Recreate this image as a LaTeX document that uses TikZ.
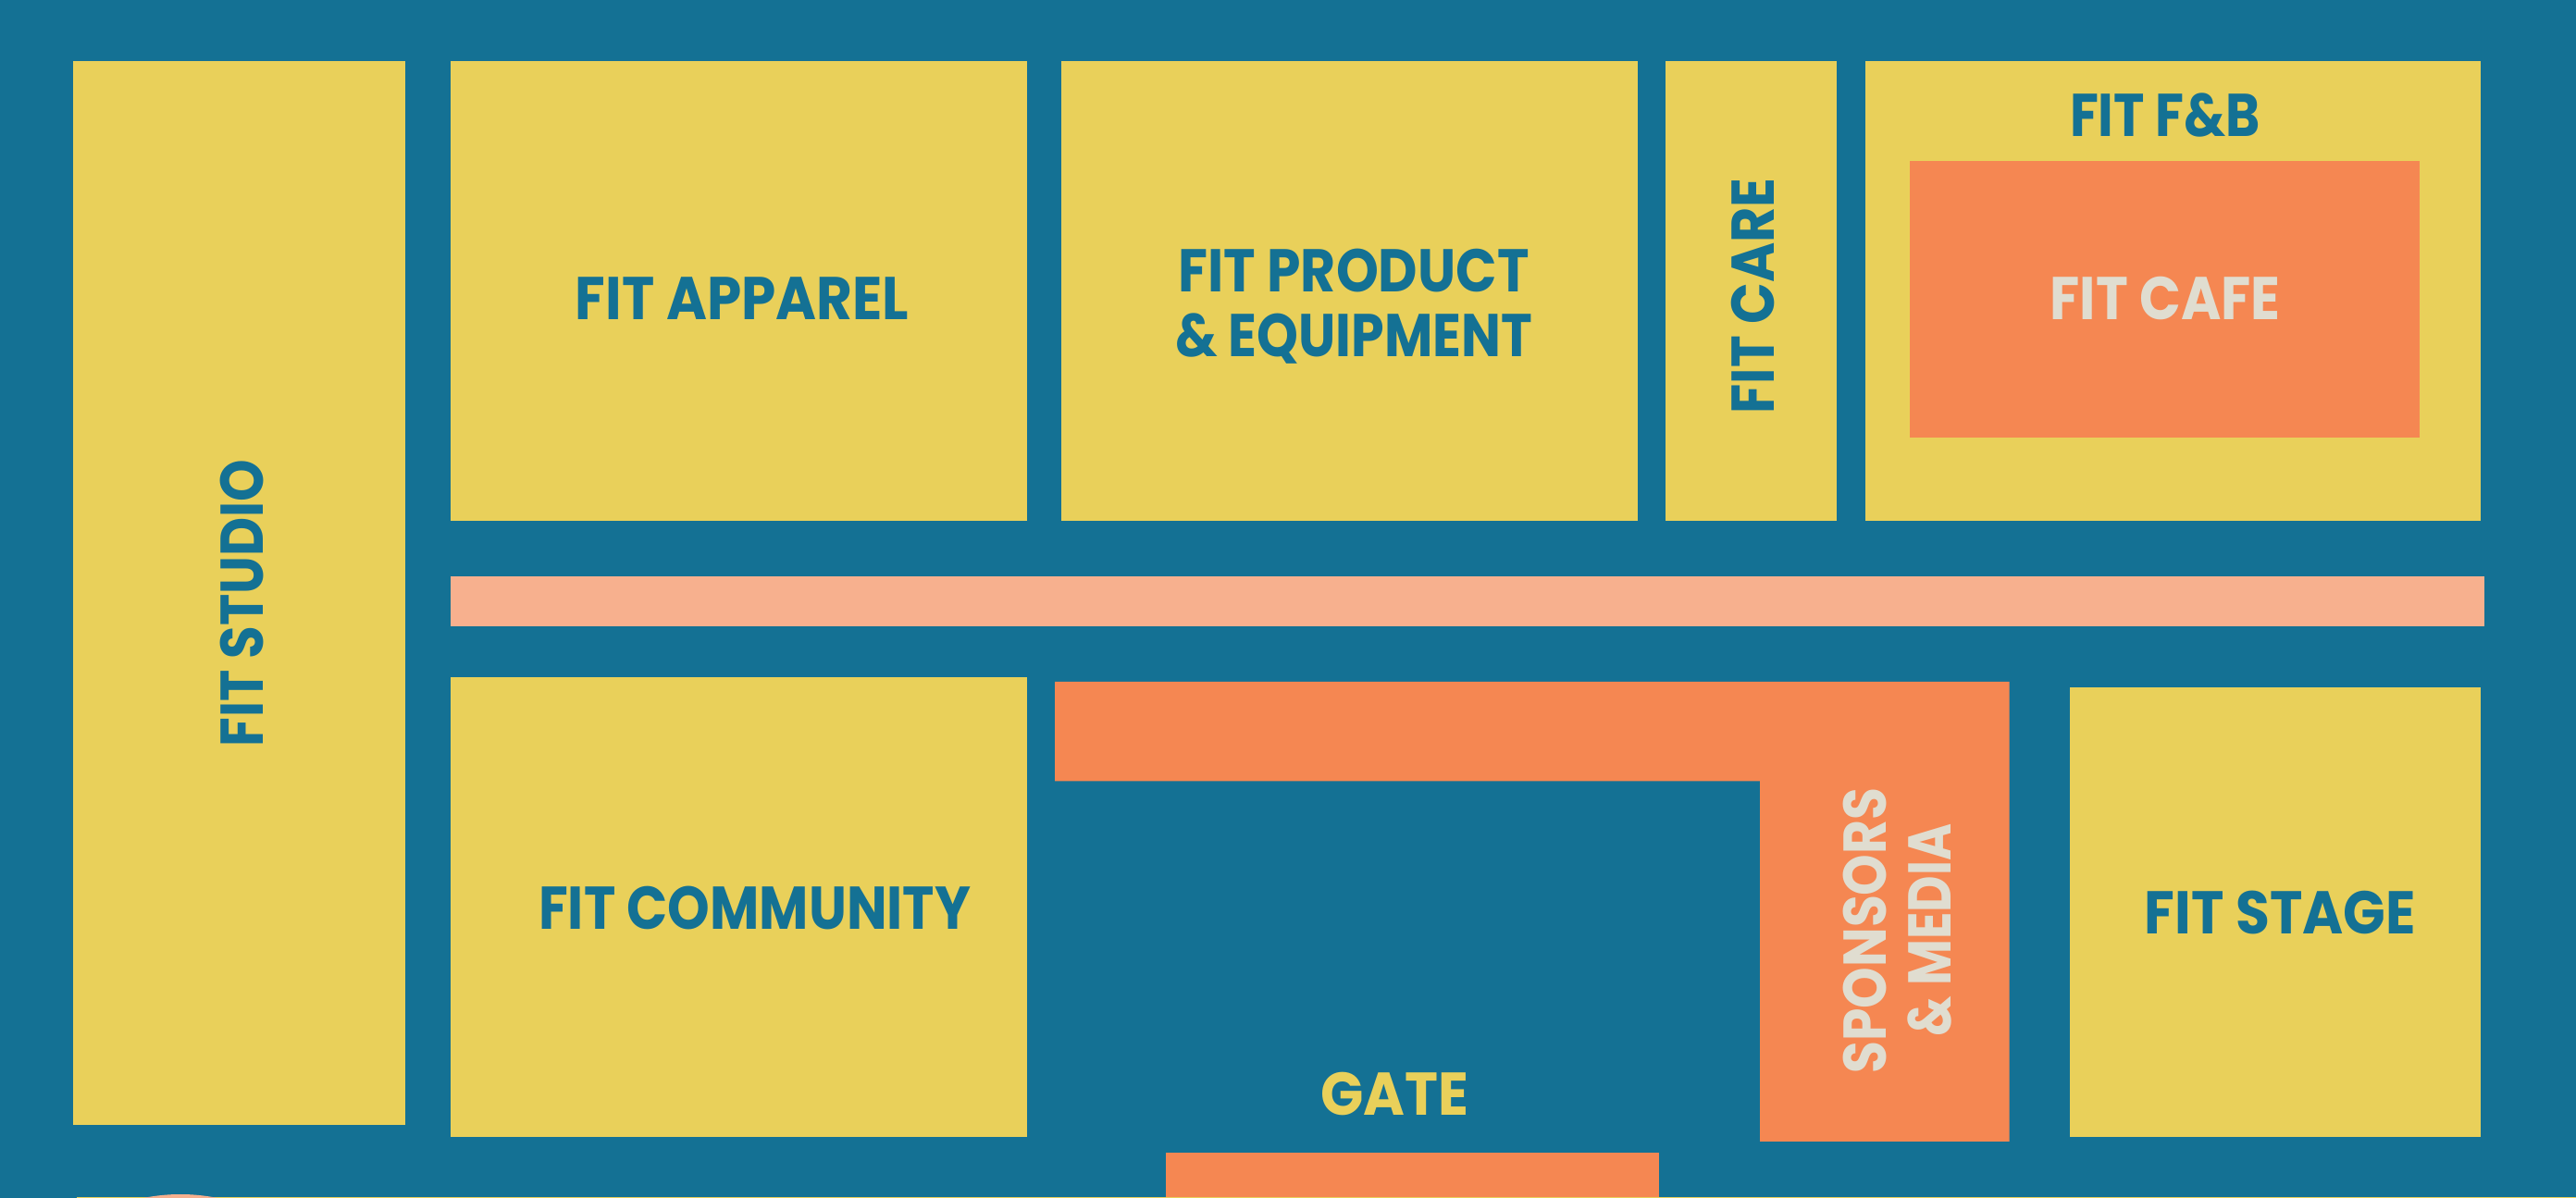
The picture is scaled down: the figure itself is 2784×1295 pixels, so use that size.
\documentclass[tikz,border=0pt]{standalone}
\usepackage{graphicx}
\usepackage{fontspec}
\setmainfont{Poppins}
\definecolor{fitblue}{RGB}{20,113,148}
\definecolor{fityellow}{RGB}{233,208,90}
\definecolor{fitorange}{RGB}{245,135,82}
\definecolor{fitsalmon}{RGB}{247,176,142}
\definecolor{fitlight}{RGB}{224,221,208}
\newlength\pxu
\setlength\pxu{0.01cm}
% #1 box width, #2 cap height, #3 text (in px of the reference)
\newcommand\fitlab[3]{\resizebox{#1\pxu}{#2\pxu}{\vrule height \fontcharht\font`H width 0pt\smash{#3}}}
\tikzset{
  lbl/.style={inner sep=0pt,outer sep=0pt,font=\bfseries,text=fitblue},
  lightlbl/.style={lbl,text=fitlight},
  gatelbl/.style={lbl,text=fityellow}
}
\begin{document}
\begin{tikzpicture}[x=0.01cm,y=-0.01cm]
\useasboundingbox (0,0) rectangle (2784,1295);
\clip (0,0) rectangle (2784,1295);
\fill[fitblue] (0,0) rectangle (2784,1295);
% zones
\fill[fityellow] (79,66) rectangle (438,1216);
\fill[fityellow] (487,66) rectangle (1110,563);
\fill[fityellow] (1147,66) rectangle (1770,563);
\fill[fityellow] (1800,66) rectangle (1985,563);
\fill[fityellow] (2015.5,66) rectangle (2681,563);
\fill[fitorange] (2063.5,174) rectangle (2615,473);
\fill[fitsalmon] (487,623) rectangle (2685,677);
\fill[fityellow] (487,732.5) rectangle (1110,1229);
\fill[fityellow] (2237,743) rectangle (2681,1229);
\fill[fitorange] (1140,737) -- (2171.5,737) -- (2171.5,1234) -- (1902,1234) -- (1902,844.5) -- (1140,844.5) -- cycle;
\fill[fitorange] (1260,1246.5) rectangle (1793,1295);
\fill[fityellow] (83,1294.4) rectangle (2784,1295);
\fill[fitsalmon] (195,1491) circle (200);
% labels
\node[lbl,rotate=90] (studio) at (261,652) {\fitlab{311}{46}{FIT STUDIO}};
\node[lbl] (apparel) at (802,323) {\fitlab{360}{46}{FIT APPAREL}};
\node[lbl] (product) at (1463,293) {\fitlab{379}{46}{FIT PRODUCT}};
\node[lbl] (equip) at (1463,363) {\fitlab{386}{46}{\& EQUIPMENT}};
\node[lbl,rotate=90] (care) at (1894,320) {\fitlab{255}{46}{FIT CARE}};
\node[lbl] (fb) at (2340,124.7) {\fitlab{206}{46}{FIT F\&B}};
\node[lightlbl] (cafe) at (2340,323) {\fitlab{249}{46}{FIT CAFE}};
\node[lbl] (community) at (815.7,982) {\fitlab{467}{46}{FIT COMMUNITY}};
\node[lbl] (stage) at (2464.3,987) {\fitlab{293}{46}{FIT STAGE}};
\node[lightlbl,rotate=90] (sponsors) at (2015.5,1006) {\fitlab{309}{46}{SPONSORS}};
\node[lightlbl,rotate=90] (media) at (2085,1005.5) {\fitlab{230}{46}{\& MEDIA}};
\node[gatelbl] (gate) at (1507,1183) {\fitlab{160}{46}{GATE}};
\end{tikzpicture}
\end{document}
